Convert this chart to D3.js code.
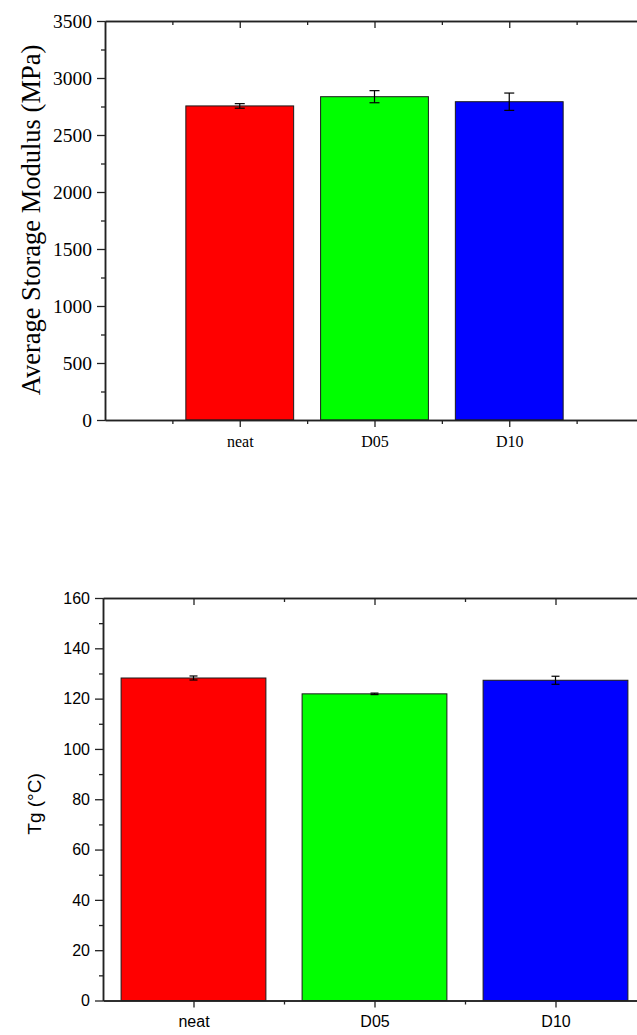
<!DOCTYPE html>
<html>
<head>
<meta charset="utf-8">
<script src="https://cdn.jsdelivr.net/npm/d3@7"></script>
<style>
  html, body { margin: 0; padding: 0; background: #fff; }
  svg { display: block; }
</style>
</head>
<body>
<svg id="chart" width="637" height="1035"></svg>
<script>
// Sample names shared by both panels
const categories = ["neat", "D05", "D10"];
const barColors = ["#ff0000", "#00ff00", "#0000ff"];

// Average storage modulus (MPa) with standard deviation
const modulus = [2755, 2836, 2792];
const modulusErr = [20, 53, 76];
const modulusTicks = [0, 500, 1000, 1500, 2000, 2500, 3000, 3500];

// Glass transition temperature (°C) with standard deviation
const tg = [128.2, 121.9, 127.3];
const tgErr = [0.8, 0.3, 1.6];
const tgTicks = [0, 20, 40, 60, 80, 100, 120, 140, 160];

const svg = d3.select("#chart");
const axisColor = "#222";

function drawPanel(opt) {
  const g = svg.append("g");
  const x = d3.scaleLinear().domain(opt.xDomain).range(opt.xRange);
  const y = d3.scaleLinear().domain(opt.yDomain).range(opt.yRange);
  const [x0, x1] = opt.xRange;
  const [yb, yt] = opt.yRange;
  const pos = categories.map((_, i) => i + 1);
  const half = opt.barWidth / 2;

  // bars
  g.selectAll("rect.bar")
    .data(opt.values)
    .join("rect")
    .attr("class", "bar")
    .attr("x", (d, i) => x(pos[i] - half))
    .attr("width", (d, i) => x(pos[i] + half) - x(pos[i] - half))
    .attr("y", d => y(d))
    .attr("height", d => y(0) - y(d))
    .attr("fill", (d, i) => barColors[i])
    .attr("stroke", "#1a1a1a")
    .attr("stroke-width", 1);

  // error bars
  const eb = g.append("g").attr("stroke", "#000").attr("stroke-width", 1.2);
  opt.values.forEach((v, i) => {
    const cx = x(pos[i]);
    const lo = y(v - opt.errors[i]), hi = y(v + opt.errors[i]);
    eb.append("line").attr("x1", cx).attr("x2", cx).attr("y1", lo).attr("y2", hi);
    eb.append("line").attr("x1", cx - opt.cap).attr("x2", cx + opt.cap).attr("y1", lo).attr("y2", lo);
    eb.append("line").attr("x1", cx - opt.cap).attr("x2", cx + opt.cap).attr("y1", hi).attr("y2", hi);
  });

  const minorX = pos.map(p => p - 0.5).concat([pos[pos.length - 1] + 0.5])
    .filter(v => v > opt.xDomain[0] && v < opt.xDomain[1]);
  const minorY = d3.range(opt.yDomain[0] + opt.yMinor, opt.yDomain[1], opt.yMinor * 2);

  const style = sel => {
    sel.selectAll("path.domain").attr("stroke", axisColor).attr("stroke-width", 1.5);
    sel.selectAll(".tick line").attr("stroke", axisColor).attr("stroke-width", 1.3);
    sel.selectAll("text").attr("fill", "#000").attr("font-family", opt.font);
  };

  // left axis: major labelled ticks and minor ticks, pointing outward
  g.append("g").attr("transform", `translate(${x0},0)`)
    .call(d3.axisLeft(y).tickValues(minorY).tickSize(4).tickSizeOuter(0).tickFormat(""))
    .call(style);
  g.append("g").attr("transform", `translate(${x0},0)`)
    .call(d3.axisLeft(y).tickValues(opt.yTicks).tickSize(8).tickSizeOuter(0)
      .tickPadding(5).tickFormat(d3.format("d")))
    .call(style)
    .selectAll("text").attr("font-size", opt.tickFont);

  // right axis: major ticks pointing inward
  g.append("g").attr("transform", `translate(${x1},0)`)
    .call(d3.axisLeft(y).tickValues(opt.yTicks).tickSize(0).tickSizeOuter(0).tickFormat(""))
    .call(style)
    .call(a => a.selectAll(".tick line").attr("x2", -7));

  // bottom axis: category labels, outward ticks
  g.append("g").attr("transform", `translate(0,${yb})`)
    .call(d3.axisBottom(x).tickValues(minorX).tickSize(4).tickSizeOuter(0).tickFormat(""))
    .call(style);
  g.append("g").attr("transform", `translate(0,${yb})`)
    .call(d3.axisBottom(x).tickValues(pos).tickSize(7).tickSizeOuter(0)
      .tickPadding(opt.catPad).tickFormat((d, i) => categories[i]))
    .call(style)
    .selectAll("text").attr("font-size", opt.catFont);

  // top axis: inward ticks
  g.append("g").attr("transform", `translate(0,${yt})`)
    .call(d3.axisBottom(x).tickValues(minorX).tickSize(4).tickSizeOuter(0).tickFormat(""))
    .call(style);
  g.append("g").attr("transform", `translate(0,${yt})`)
    .call(d3.axisBottom(x).tickValues(pos).tickSize(7).tickSizeOuter(0).tickFormat(""))
    .call(style);

  // y title
  g.append("text")
    .attr("transform", `translate(${opt.titleX},${opt.titleY}) rotate(-90)`)
    .attr("text-anchor", "middle")
    .attr("font-family", opt.font)
    .attr("font-size", opt.titleFont)
    .attr("fill", "#000")
    .text(opt.title);
}

drawPanel({
  values: modulus, errors: modulusErr, yTicks: modulusTicks,
  xDomain: [0, 4], xRange: [105, 644],
  yDomain: [0, 3500], yRange: [420, 21], yMinor: 250,
  barWidth: 0.8, cap: 5,
  font: "'Liberation Serif', 'Times New Roman', serif",
  tickFont: 19.5, catFont: 16, catPad: 9, titleFont: 26.5,
  title: "Average Storage Modulus (MPa)", titleX: 40, titleY: 220
});

drawPanel({
  values: tg, errors: tgErr, yTicks: tgTicks,
  xDomain: [0.5, 3.5], xRange: [103, 646],
  yDomain: [0, 160], yRange: [1000.5, 598], yMinor: 10,
  barWidth: 0.8, cap: 4,
  font: "'Liberation Sans', Arial, sans-serif",
  tickFont: 16, catFont: 16, catPad: 8, titleFont: 19,
  title: "Tg (°C)", titleX: 41, titleY: 804
});
</script>
</body>
</html>
